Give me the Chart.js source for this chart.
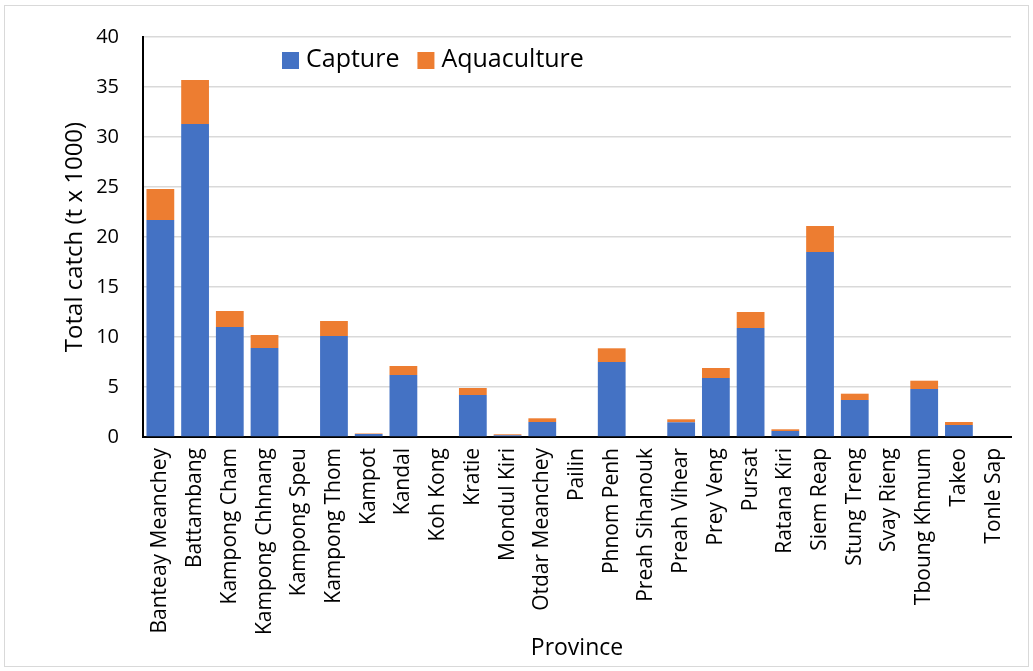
<!DOCTYPE html>
<html>
<head>
<meta charset="utf-8">
<script src="https://cdn.jsdelivr.net/npm/chart.js@4.4.1/dist/chart.umd.min.js"></script>
<style>
  html, body { margin: 0; padding: 0; background: #fff; }
  #wrap { position: relative; width: 1033px; height: 671px; }
  #frame { position: absolute; left: 4px; top: 5px; width: 1023px; height: 660px; border: 1.5px solid #d9d9d9; pointer-events: none; }
</style>
</head>
<body>
<div id="wrap">
  <canvas id="catchChart" width="1033" height="671"></canvas>
  <div id="frame"></div>
</div>
<script>
// Provinces along the x axis
const provinces = ['Banteay Meanchey', 'Battambang', 'Kampong Cham', 'Kampong Chhnang', 'Kampong Speu',
  'Kampong Thom', 'Kampot', 'Kandal', 'Koh Kong', 'Kratie', 'Mondul Kiri', 'Otdar Meanchey', 'Pailin',
  'Phnom Penh', 'Preah Sihanouk', 'Preah Vihear', 'Prey Veng', 'Pursat', 'Ratana Kiri', 'Siem Reap',
  'Stung Treng', 'Svay Rieng', 'Tboung Khmum', 'Takeo', 'Tonle Sap'];

// Catch in thousands of tonnes
const capture = [21.7, 31.3, 11.0, 8.9, 0, 10.1, 0.3, 6.2, 0, 4.2, 0.17, 1.5, 0,
  7.5, 0, 1.47, 5.9, 10.9, 0.6, 18.5, 3.7, 0, 4.8, 1.2, 0];
const aquaculture = [3.1, 4.4, 1.6, 1.3, 0, 1.5, 0.05, 0.9, 0, 0.7, 0.1, 0.37, 0,
  1.37, 0, 0.3, 1.0, 1.6, 0.17, 2.6, 0.63, 0, 0.83, 0.3, 0];

const yTicks = [0, 5, 10, 15, 20, 25, 30, 35, 40];

const FONT = "'Open Sans', sans-serif";

// legend drawn inside the plot, near the top
const innerLegend = {
  id: 'innerLegend',
  afterDraw(chart) {
    const ctx = chart.ctx;
    const area = chart.chartArea;
    ctx.save();
    ctx.font = '25px ' + FONT;
    ctx.textBaseline = 'middle';
    let x = area.left + 139;
    const y = area.top + 23;
    chart.data.datasets.forEach(ds => {
      ctx.fillStyle = ds.backgroundColor;
      ctx.fillRect(x, y - 8, 17, 17);
      ctx.fillStyle = '#000';
      ctx.fillText(ds.label, x + 24, y);
      x += 24 + ctx.measureText(ds.label).width + 18;
    });
    ctx.restore();
  }
};

const ctx = document.getElementById('catchChart').getContext('2d');

new Chart(ctx, {
  type: 'bar',
  data: {
    labels: provinces,
    datasets: [
      { label: 'Capture', data: capture, backgroundColor: '#4472C4', categoryPercentage: 0.8, barPercentage: 1.0 },
      { label: 'Aquaculture', data: aquaculture, backgroundColor: '#ED7D31', categoryPercentage: 0.8, barPercentage: 1.0 }
    ]
  },
  options: {
    responsive: false,
    animation: false,
    layout: { padding: { left: 61, right: 22, top: 37, bottom: 9 } },
    plugins: {
      legend: { display: false },
      tooltip: { enabled: false }
    },
    scales: {
      x: {
        stacked: true,
        grid: { display: false, drawTicks: false },
        border: { display: true, color: '#000', width: 2 },
        ticks: { color: '#000', font: { family: FONT, size: 21 }, minRotation: 90, maxRotation: 90, padding: 11, autoSkip: false },
        title: { display: true, text: 'Province', color: '#000', font: { family: FONT, size: 23 }, padding: 0 },
        afterFit(scale) { scale.height = 225; }
      },
      y: {
        stacked: true,
        min: 0,
        max: 40,
        afterBuildTicks(scale) { scale.ticks = yTicks.map(v => ({ value: v })); },
        grid: { color: '#d9d9d9', lineWidth: 1.5, drawTicks: false },
        border: { display: true, color: '#000', width: 2 },
        ticks: { color: '#000', font: { family: FONT, size: 20 }, padding: 24 },
        title: { display: true, text: 'Total catch (t x 1000)', color: '#000', font: { family: FONT, size: 24 }, padding: 0 },
        afterFit(scale) { scale.width = 82; }
      }
    }
  },
  plugins: [innerLegend]
});
</script>
</body>
</html>
